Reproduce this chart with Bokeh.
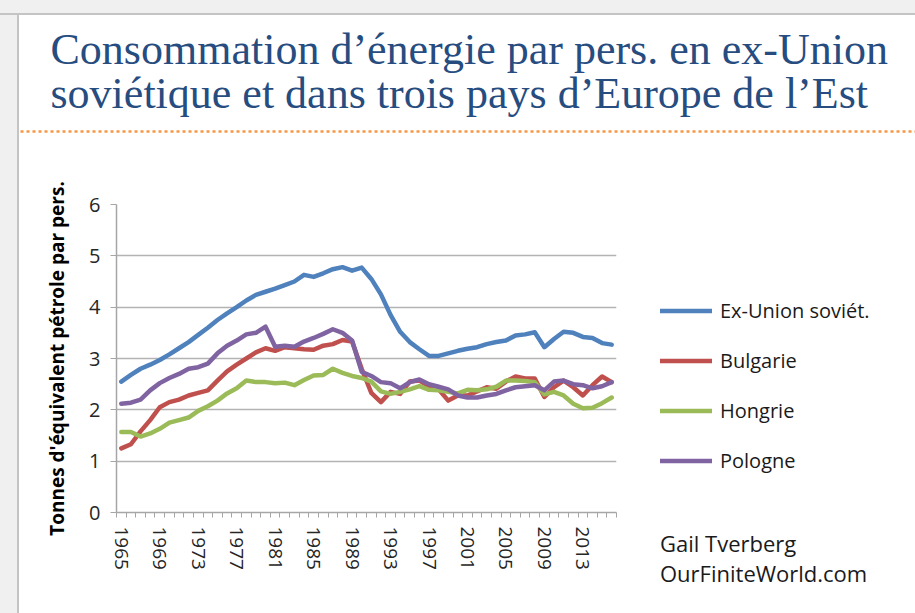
from bokeh.plotting import figure
from bokeh.models import Range1d, FixedTicker, Legend, LegendItem
from bokeh.embed import file_html
from bokeh.resources import INLINE
from bokeh.core.properties import value

years = list(range(1965, 2017))
ussr = [2.55, 2.68, 2.80, 2.88, 2.97, 3.08, 3.20, 3.32, 3.46, 3.60,
        3.75, 3.88, 4.00, 4.13, 4.24, 4.30, 4.36, 4.43, 4.50, 4.63,
        4.59, 4.66, 4.74, 4.78, 4.71, 4.77, 4.55, 4.25, 3.85, 3.52,
        3.32, 3.18, 3.05, 3.05, 3.10, 3.15, 3.19, 3.22, 3.28, 3.32,
        3.35, 3.45, 3.47, 3.51, 3.22, 3.38, 3.52, 3.50, 3.42, 3.40,
        3.30, 3.27]
bulgarie = [1.25, 1.33, 1.58, 1.80, 2.05, 2.15, 2.20, 2.28, 2.33, 2.38,
            2.57, 2.75, 2.88, 3.00, 3.12, 3.20, 3.15, 3.22, 3.20, 3.18,
            3.17, 3.25, 3.28, 3.36, 3.33, 2.80, 2.33, 2.15, 2.35, 2.31,
            2.55, 2.57, 2.46, 2.40, 2.18, 2.28, 2.28, 2.36, 2.44, 2.41,
            2.55, 2.65, 2.61, 2.61, 2.25, 2.44, 2.57, 2.44, 2.28, 2.48,
            2.65, 2.54]
hongrie = [1.57, 1.57, 1.48, 1.54, 1.63, 1.75, 1.80, 1.85, 1.98, 2.07,
           2.18, 2.32, 2.42, 2.57, 2.54, 2.54, 2.52, 2.53, 2.48, 2.58,
           2.67, 2.68, 2.80, 2.72, 2.66, 2.62, 2.55, 2.36, 2.31, 2.35,
           2.40, 2.46, 2.39, 2.38, 2.35, 2.32, 2.39, 2.38, 2.40, 2.45,
           2.57, 2.57, 2.56, 2.54, 2.30, 2.35, 2.28, 2.12, 2.03, 2.04,
           2.13, 2.24]
pologne = [2.12, 2.14, 2.20, 2.38, 2.52, 2.62, 2.70, 2.80, 2.83, 2.90,
           3.10, 3.25, 3.35, 3.47, 3.50, 3.62, 3.23, 3.25, 3.23, 3.33,
           3.40, 3.48, 3.57, 3.50, 3.35, 2.74, 2.66, 2.54, 2.52, 2.42,
           2.54, 2.59, 2.50, 2.45, 2.40, 2.28, 2.24, 2.24, 2.28, 2.31,
           2.38, 2.44, 2.46, 2.48, 2.38, 2.55, 2.57, 2.50, 2.48, 2.42,
           2.46, 2.54]

series_names = ["Ex-Union soviét.", "Bulgarie", "Hongrie", "Pologne"]
series_colors = ["#4F81BD", "#C0504D", "#9BBB59", "#8064A2"]
y_ticks = [0, 1, 2, 3, 4, 5, 6]
x_tick_years = list(range(1965, 2014, 4))
title_lines = ["Consommation d\u2019énergie par pers. en ex-Union",
               "soviétique et dans trois pays d\u2019Europe de l\u2019Est"]
y_label = "Tonnes d'équivalent pétrole par pers."
credit_lines = ["Gail Tverberg", "OurFiniteWorld.com"]

# ---------- header (title + dotted rule) ----------
hdr = figure(width=896, height=119, x_range=Range1d(19, 915), y_range=Range1d(134, 15),
             output_backend="svg", toolbar_location=None, min_border=0,
             x_axis_location=None, y_axis_location=None, margin=(15, 0, 0, 19))
hdr.grid.visible = False
hdr.outline_line_color = None
hdr.text(x=[50, 50], y=[49, 93], text=title_lines,
         text_font=value("Liberation Serif"), text_font_size="44px",
         text_color="#264c80", text_baseline="alphabetic")
hdr.line(x=[20, 915], y=[131, 131], line_color="#F79646", line_width=2.5,
         line_dash="3 3")

# ---------- main chart ----------
p = figure(frame_width=500, frame_height=308,
           x_range=Range1d(1964.5, 2016.5), y_range=Range1d(0, 6),
           output_backend="svg", toolbar_location=None,
           min_border_left=97, min_border_right=299,
           min_border_top=70, min_border_bottom=100, margin=(0, 0, 0, 19))
p.outline_line_color = None

renderers = []
for vals, col in zip([ussr, bulgarie, hongrie, pologne], series_colors):
    r = p.line(years, vals, line_color=col, line_width=4.5, line_join="round",
               line_cap="round")
    renderers.append(r)

# axes
p.xaxis.ticker = FixedTicker(ticks=x_tick_years,
                             minor_ticks=[1964.5 + k for k in range(53)])
p.xaxis.major_label_orientation = "vertical"
p.xaxis.major_tick_line_color = None
p.xaxis.major_tick_out = 5
p.xaxis.major_tick_in = 0
p.xaxis.minor_tick_out = 5
p.xaxis.minor_tick_in = 0
p.xaxis.minor_tick_line_color = "#a6a6a6"
p.xaxis.axis_line_color = "#a6a6a6"
p.xaxis.axis_line_width = 1.5
p.xaxis.major_label_text_font = "Open Sans"
p.xaxis.major_label_text_font_size = "19px"
p.xaxis.major_label_text_color = "#262626"
p.xaxis.major_label_standoff = 9

p.yaxis.ticker = FixedTicker(ticks=y_ticks)
p.yaxis.minor_tick_line_color = None
p.yaxis.major_tick_out = 6
p.yaxis.major_tick_in = 0
p.yaxis.major_tick_line_color = "#a6a6a6"
p.yaxis.axis_line_color = "#a6a6a6"
p.yaxis.axis_line_width = 1.5
p.yaxis.major_label_text_font = "Open Sans"
p.yaxis.major_label_text_font_size = "20px"
p.yaxis.major_label_text_color = "#262626"
p.yaxis.major_label_standoff = 10
p.yaxis.axis_label = y_label
p.yaxis.axis_label_text_font = "Open Sans"
p.yaxis.axis_label_text_font_size = "19px"
p.yaxis.axis_label_text_font_style = "bold"
p.yaxis.axis_label_text_color = "#000000"
p.yaxis.axis_label_standoff = 16

p.xgrid.visible = False
p.ygrid.grid_line_color = "#b3b3b3"
p.ygrid.grid_line_width = 1.6

legend = Legend(items=[LegendItem(label=n, renderers=[r]) for n, r in zip(series_names, renderers)],
                location=(44, -76), orientation="vertical",
                glyph_width=52, glyph_height=27, label_height=27, spacing=23,
                padding=0, margin=0, label_standoff=8,
                border_line_color=None, background_fill_alpha=0,
                label_text_font="Open Sans", label_text_font_size="20px",
                label_text_color="#1a1a1a",
                title="\n".join(credit_lines), title_location="below",
                title_standoff=54, title_text_font="Open Sans",
                title_text_font_size="22px", title_text_font_style="normal",
                title_text_color="#1a1a1a", title_text_line_height=1.36)
p.add_layout(legend, "right")

html = file_html([hdr, p], INLINE)
css = ("<style>html, body { background: "
       "linear-gradient(to bottom, #f0f0f0 0, #f0f0f0 13px, #c4c4c4 13px, #c4c4c4 15px, transparent 15px) no-repeat, "
       "linear-gradient(to right, #f0f0f0 0, #f0f0f0 17px, #c4c4c4 17px, #c4c4c4 19px, #ffffff 19px) "
       "!important; }</style></head>")
html = html.replace("</head>", css, 1)
open("out.html", "w").write(html)
